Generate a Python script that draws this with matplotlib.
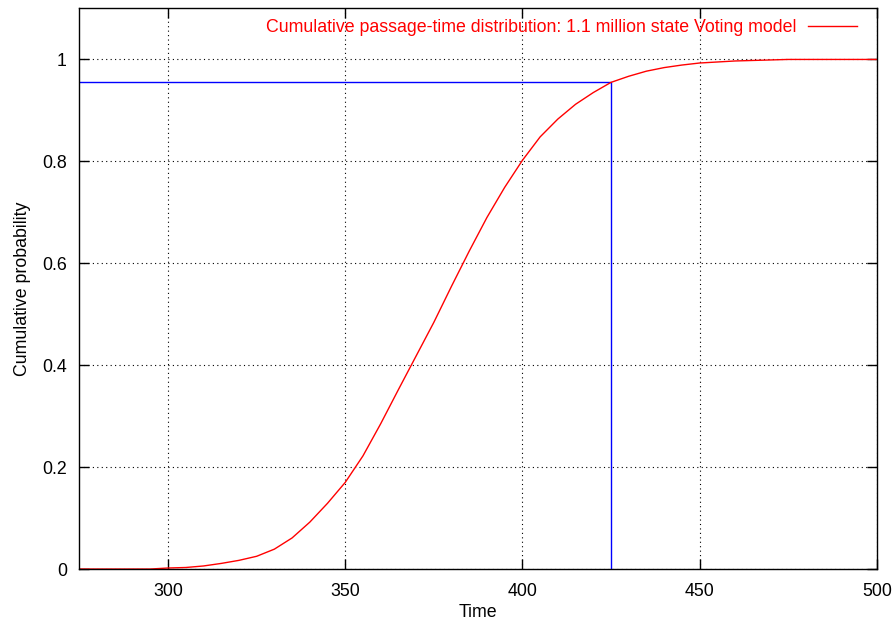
import numpy as np
import matplotlib.pyplot as plt
from matplotlib.ticker import FormatStrFormatter

plt.rcParams['font.family'] = ['Liberation Sans', 'DejaVu Sans']

# passage-time CDF sampled every 5 time units
time = np.arange(275, 505, 5)
cdf = [0.0, 0.0, 0.0, 0.0, 0.0, 0.002, 0.003, 0.006, 0.011, 0.017,
       0.025, 0.039, 0.061, 0.092, 0.129, 0.170, 0.222, 0.285, 0.352, 0.418,
       0.484, 0.555, 0.624, 0.690, 0.749, 0.802, 0.848, 0.883, 0.912, 0.935,
       0.955, 0.967, 0.977, 0.984, 0.989, 0.993, 0.995, 0.997, 0.998, 0.999,
       1.0, 1.0, 1.0, 1.0, 1.0, 1.0]

# quantile marker
q_time = 425
q_prob = 0.955

xticks = [300, 350, 400, 450, 500]
yticks = [0, 0.2, 0.4, 0.6, 0.8, 1]

fs = 12.8

fig = plt.figure(figsize=(8.95, 6.24), dpi=100)
ax = fig.add_axes([0.0888, 0.0881, 0.8908, 0.8983])

ax.plot([time[0], q_time, q_time], [q_prob, q_prob, 0], color='blue', lw=1.0)
ax.plot(time, cdf, color='red', lw=1.0,
        label='Cumulative passage-time distribution: 1.1 million state Voting model')

ax.set_xlim(275, 500)
ax.set_ylim(0, 1.1)
ax.set_xticks(xticks)
ax.set_yticks(yticks)
ax.yaxis.set_major_formatter(FormatStrFormatter('%g'))
ax.grid(True, color='black', linestyle=(0, (1, 3)), lw=0.8)
ax.tick_params(direction='in', length=7, width=1, top=True, right=True,
               labelsize=fs)
ax.tick_params(axis='x', pad=10)
ax.tick_params(axis='y', pad=9)
for s in ax.spines.values():
    s.set_linewidth(1.0)

ax.set_xlabel('Time', fontsize=fs, labelpad=3)
ax.set_ylabel('Cumulative probability', fontsize=fs, labelpad=8)

leg = ax.legend(loc='upper right', frameon=False, markerfirst=False,
                fontsize=fs, labelcolor='red', handlelength=2.8,
                handletextpad=0.6, borderaxespad=0.2,
                bbox_to_anchor=(0.989, 1.0))

fig.savefig('out.png', dpi=100)
